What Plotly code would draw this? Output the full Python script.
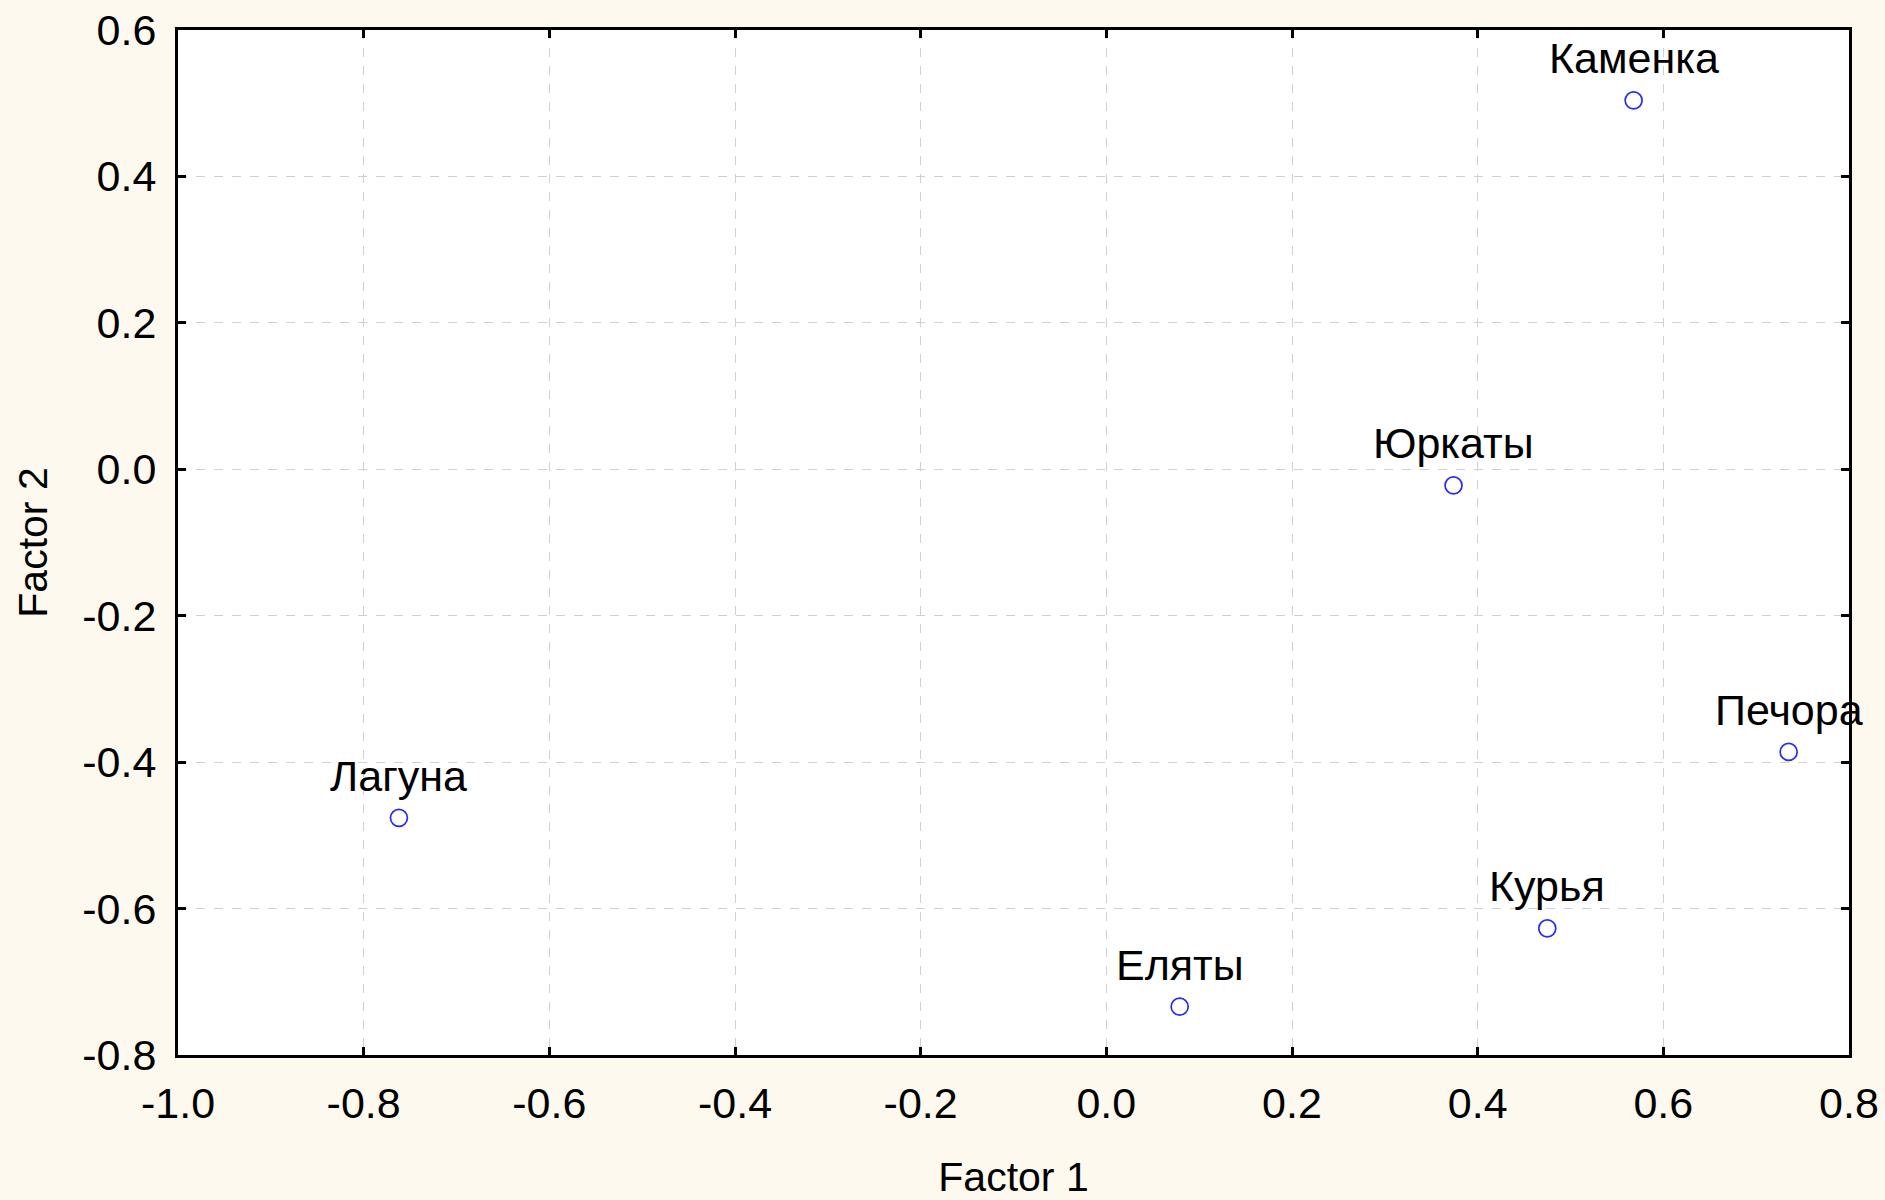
import plotly.graph_objects as go

names = ["Каменка", "Юркаты", "Печора", "Лагуна", "Курья", "Еляты"]
factor1 = [0.568, 0.374, 0.735, -0.762, 0.475, 0.079]
factor2 = [0.504, -0.022, -0.386, -0.476, -0.627, -0.734]

x_ticks = [-1.0, -0.8, -0.6, -0.4, -0.2, 0.0, 0.2, 0.4, 0.6, 0.8]
x_ticktext = ["-1.0", "-0.8", "-0.6", "-0.4", "-0.2", "0.0", "0.2", "0.4", "0.6", "0.8"]
y_ticks = [-0.8, -0.6, -0.4, -0.2, 0.0, 0.2, 0.4, 0.6]
y_ticktext = ["-0.8", "-0.6", "-0.4", "-0.2", "0.0", "0.2", "0.4", "0.6"]

FONT = "Liberation Sans, Arial, sans-serif"
BG = "#fdf9ee"

fig = go.Figure()
fig.add_trace(go.Scatter(
    x=factor1, y=factor2, mode="markers",
    marker=dict(symbol="circle-open", size=17, color="#2a2af5", line=dict(width=1.7, color="#2a2af5")),
    cliponaxis=False, showlegend=False, hoverinfo="skip",
))

for n, xv, yv in zip(names, factor1, factor2):
    fig.add_annotation(x=xv, y=yv, text=n, showarrow=False, xanchor="center", yanchor="bottom",
                       yshift=16, font=dict(family=FONT, size=43, color="black"))

axis_common = dict(
    showline=True, linecolor="black", linewidth=3, mirror="ticks",
    ticks="inside", ticklen=8, tickwidth=3, tickcolor="black",
    showgrid=True, gridcolor="#d0d0d0", gridwidth=1, griddash="dash",
    zeroline=False, automargin=False, tickfont=dict(family=FONT, size=43, color="black"),
)

fig.update_layout(
    width=1885, height=1200,
    margin=dict(l=178, r=36, t=30, b=145),
    paper_bgcolor=BG, plot_bgcolor="white",
    font=dict(family=FONT, color="black"),
    xaxis=dict(range=[-1.0, 0.8], tickvals=x_ticks, ticktext=x_ticktext, ticklabelstandoff=8,
               title=dict(text="Factor 1", font=dict(family=FONT, size=41), standoff=42),
               **axis_common),
    yaxis=dict(range=[-0.8, 0.6], tickvals=y_ticks, ticktext=y_ticktext, ticklabelstandoff=10,
               title=dict(text="Factor 2", font=dict(family=FONT, size=41), standoff=22),
               **axis_common),
)

fig.write_html("out.html", config={"displayModeBar": False}, post_script=(
    "document.body.style.margin='0';document.body.style.padding='0';"
    "document.body.style.background='" + BG + "';"
))
